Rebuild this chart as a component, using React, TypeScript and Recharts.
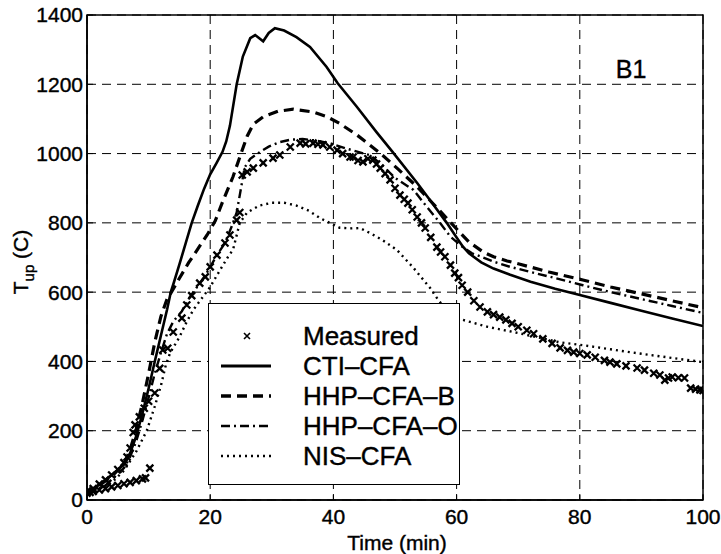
import React from "react";
import {
  ComposedChart,
  Line,
  Scatter,
  XAxis,
  YAxis,
  CartesianGrid,
  ReferenceArea,
} from "recharts";

const FONT = "'Liberation Sans', Arial, Helvetica, sans-serif";

// [time (min), temperature (C)]
const ctiCfa: [number, number][] = [
  [0, 20], [2, 45], [4, 72], [6, 102], [7, 135], [8, 185], [9, 250], [10, 322],
  [11, 400], [12, 475], [13, 550], [13.6, 600], [14, 622], [15, 680], [16, 740],
  [17, 800], [18, 850], [19, 898], [20, 940], [21, 972], [22, 1005], [22.6, 1035],
  [23.2, 1080], [24.3, 1200], [25.3, 1280], [26.5, 1333], [27.3, 1342], [28.6, 1324],
  [29.5, 1348], [30.5, 1362], [32, 1355], [34, 1336], [36.2, 1308], [38.9, 1250],
  [40.7, 1203], [43.8, 1135], [47, 1062], [49.6, 1005], [53.6, 915], [56, 858],
  [58.4, 800], [60, 758], [61, 732], [62, 712], [64, 686], [66, 668], [68.7, 650],
  [72, 630], [76, 610], [80, 592], [85, 569], [90, 546], [95, 524], [100, 502],
];

const hhpCfaB: [number, number][] = [
  [0, 20], [2, 42], [4, 68], [6, 104], [7, 145], [8, 205], [9, 280], [10, 365],
  [11, 455], [12, 530], [13, 580], [13.7, 600], [15, 640], [16.5, 685], [18, 725],
  [19.5, 765], [20.8, 805], [22, 860], [23.7, 933], [25, 1000], [26, 1050],
  [27, 1085], [28.6, 1106], [31, 1122], [33.5, 1128], [36.7, 1120], [38.9, 1107],
  [41, 1087], [43.8, 1054], [47.6, 1001], [50.5, 955], [53.6, 904], [57, 840],
  [60.6, 771], [62, 745], [64.3, 716], [66, 702], [68.2, 690], [70, 682], [75, 658],
  [80.5, 635], [85, 615], [90, 595], [95, 575], [100, 555],
];

const hhpCfaO: [number, number][] = [
  [0, 20], [3, 42], [6, 92], [7, 125], [8, 170], [9, 230], [10, 295], [11, 365],
  [12, 425], [13, 480], [14, 515], [15.4, 545], [16.7, 586], [18.3, 626], [19.2, 648],
  [20, 673], [21.1, 707], [22.4, 742], [23.5, 790], [24.3, 830], [25, 900],
  [25.6, 960], [26.5, 985], [28.1, 1005], [29.5, 1020], [31.3, 1033], [33, 1040],
  [35, 1042], [37, 1038], [39.4, 1030], [42, 1015], [44, 1005], [46, 995], [48, 965],
  [50, 930], [53, 895], [55, 850], [57.3, 800], [59, 760], [61, 730], [62.5, 712],
  [64.3, 700], [66, 688], [68.7, 673], [75, 645], [80.5, 620], [85, 600], [90, 580],
  [95, 560], [100, 540],
];

const nisCfa: [number, number][] = [
  [0, 20], [2, 32], [4, 50], [6, 85], [8, 140], [9.7, 200], [11, 270], [12, 330],
  [12.8, 390], [13.5, 425], [15, 470], [16.2, 515], [17.3, 550], [18.8, 586],
  [20, 615], [21.6, 664], [23, 705], [23.7, 722], [24.8, 800], [26, 830], [28, 850],
  [30, 858], [32, 858], [34, 850], [36, 835], [38, 812], [40, 795], [41, 786],
  [43, 784], [44.3, 785], [46, 770], [48, 750], [50.3, 722], [53, 670], [55.7, 612],
  [57, 578], [58, 556], [59, 540], [60, 528], [61, 520], [62.2, 514], [65, 500],
  [70, 482], [76.8, 455], [80.5, 447], [85, 435], [90, 422], [95, 410], [100, 398],
];

const measured: [number, number][] = [
  // lower thermocouple trace at the start
  [0, 25], [0.5, 22], [1, 25], [2, 29], [3, 33], [4, 38], [5, 42], [6, 47], [7, 51],
  [8, 56], [9, 61], [9.5, 64], [10.2, 92],
  // main trace
  [0, 20], [1, 33], [2, 46], [3, 58], [4, 72], [5, 88], [6, 108], [6.5, 124],
  [7, 150], [7.5, 195], [7.8, 217], [8.5, 240], [9.3, 265], [10, 285], [11, 309],
  [11.8, 380], [12.3, 433], [13.1, 438], [14, 485], [15.4, 525], [16.2, 563],
  [17, 590], [18.3, 626], [19.2, 644], [20, 673], [21.1, 707], [22.4, 742],
  [23.2, 765], [24.3, 808], [24.8, 830], [25.2, 938], [26, 947], [27, 958],
  [28.6, 973], [30.2, 987], [31.3, 996], [33, 1019], [34.6, 1030], [35.5, 1028],
  [36.7, 1030], [37.5, 1027], [38.3, 1025], [39.4, 1019], [40.6, 1010], [41.5, 1000],
  [42.7, 990], [43.2, 990], [44, 980], [44.8, 976], [45.6, 985], [46.4, 981],
  [47, 970], [47.6, 958], [48.4, 942], [49.2, 924], [50, 900], [50.8, 880],
  [51.5, 868], [52.1, 857], [52.8, 838], [53.6, 817], [54.3, 800], [54.9, 785],
  [55.8, 758], [56.8, 730], [57.4, 716], [58.1, 702], [59, 678], [59.7, 655],
  [60.3, 642], [60.9, 620], [61.8, 600], [62.8, 575], [63.8, 557], [65, 543],
  [66, 535], [67, 528], [68, 520], [69, 510], [70, 500], [71.4, 490], [72.5, 480],
  [74, 465], [75.5, 452], [76.8, 439], [78, 432], [79, 427], [80, 423], [81.2, 419],
  [82.5, 412], [84, 403], [84.9, 398], [86, 393], [87.5, 387], [89.3, 381],
  [90.5, 375], [92, 366], [93, 361], [93.8, 346], [94.4, 352], [95, 355], [96, 353],
  [97, 352], [98, 323], [98.8, 320], [99.5, 318], [100, 316],
];

const xTicks = [0, 20, 40, 60, 80, 100];
const yTicks = [0, 200, 400, 600, 800, 1000, 1200, 1400];

const toPoints = (arr: [number, number][]) => arr.map(([x, y]) => ({ x, y }));

// scanned figure has heavy glyphs, a thin outline thickens them a bit
const tickStyle = { fill: "#000", fontSize: 21, fontFamily: FONT, stroke: "#000", strokeWidth: 0.4 };

const XMark = (props: any) => {
  const { cx, cy } = props;
  if (cx == null || cy == null) return null;
  const s = 3.5;
  return (
    <path
      d={`M${cx - s},${cy - s}L${cx + s},${cy + s}M${cx - s},${cy + s}L${cx + s},${cy - s}`}
      stroke="#000"
      strokeWidth={2.3}
      fill="none"
    />
  );
};

const legendRows = [
  { label: "Measured", kind: "marker" },
  { label: "CTI–CFA", dash: undefined, width: 3 },
  { label: "HHP–CFA–B", dash: "10 6", width: 3.5 },
  { label: "HHP–CFA–O", dash: "9 4 2 4", width: 2.5 },
  { label: "NIS–CFA", dash: "2 4", width: 2.5 },
];

function LegendBox() {
  return (
    <div
      style={{
        position: "absolute",
        left: 208,
        top: 303,
        width: 250,
        height: 180,
        border: "1.5px solid #000",
        background: "#fff",
        fontFamily: FONT,
      }}
    >
      {legendRows.map((r: any, i) => (
        <div
          key={r.label}
          style={{
            position: "absolute",
            left: 0,
            top: 17 + i * 30,
            height: 30,
            display: "flex",
            alignItems: "center",
          }}
        >
          <svg width={94} height={30}>
            {r.kind === "marker" ? (
              <path d="M35,12L41,18M35,18L41,12" stroke="#000" strokeWidth={1.6} />
            ) : (
              <line
                x1={12}
                x2={62}
                y1={15}
                y2={15}
                stroke="#000"
                strokeWidth={r.width}
                strokeDasharray={r.dash}
              />
            )}
          </svg>
          <span
            style={{
              fontSize: 26,
              color: "#000",
              whiteSpace: "nowrap",
              WebkitTextStroke: "0.4px #000",
            }}
          >
            {r.label}
          </span>
        </div>
      ))}
    </div>
  );
}

export default function App() {
  return (
    <div style={{ position: "absolute", left: 0, top: 0, width: 721, height: 554, background: "#fff" }}>
      <ComposedChart
        width={721}
        height={554}
        margin={{ top: 15, right: 18, bottom: 4, left: 0 }}
        style={{ fontFamily: FONT }}
      >
        <CartesianGrid stroke="#000" strokeWidth={1} strokeDasharray="9 6" />
        <XAxis
          type="number"
          dataKey="x"
          domain={[0, 100]}
          ticks={xTicks}
          height={50}
          allowDataOverflow
          axisLine={{ stroke: "#000", strokeWidth: 1.5 }}
          tickLine={{ stroke: "#000" }}
          tickSize={-6}
          tickMargin={15}
          tick={tickStyle}
        />
        <YAxis
          type="number"
          domain={[0, 1400]}
          ticks={yTicks}
          width={87}
          allowDataOverflow
          axisLine={{ stroke: "#000", strokeWidth: 1.5 }}
          tickLine={{ stroke: "#000" }}
          tickSize={-6}
          tickMargin={10}
          tick={tickStyle}
        />
        <ReferenceArea
          x1={0}
          x2={100}
          y1={0}
          y2={1400}
          fill="none"
          stroke="#000"
          strokeWidth={1.5}
        />
        <Line
          data={toPoints(ctiCfa)}
          dataKey="y"
          type="linear"
          stroke="#000"
          strokeWidth={2.6}
          dot={false}
          isAnimationActive={false}
        />
        <Line
          data={toPoints(hhpCfaB)}
          dataKey="y"
          type="linear"
          stroke="#000"
          strokeWidth={3.2}
          strokeDasharray="10 6"
          dot={false}
          isAnimationActive={false}
        />
        <Line
          data={toPoints(hhpCfaO)}
          dataKey="y"
          type="linear"
          stroke="#000"
          strokeWidth={2.4}
          strokeDasharray="9 4 2 4"
          dot={false}
          isAnimationActive={false}
        />
        <Line
          data={toPoints(nisCfa)}
          dataKey="y"
          type="linear"
          stroke="#000"
          strokeWidth={2.4}
          strokeDasharray="2 4"
          dot={false}
          isAnimationActive={false}
        />
        <Scatter
          data={toPoints(measured)}
          dataKey="y"
          shape={<XMark />}
          isAnimationActive={false}
        />
        <text
          x={631}
          y={78}
          textAnchor="middle"
          fontSize={25}
          fontFamily={FONT}
          fill="#000"
          stroke="#000"
          strokeWidth={0.4}
        >
          B1
        </text>
        <text
          x={397}
          y={550}
          textAnchor="middle"
          fontSize={21}
          fontFamily={FONT}
          fill="#000"
          stroke="#000"
          strokeWidth={0.4}
        >
          Time (min)
        </text>
        <text
          x={28}
          y={262}
          transform="rotate(-90, 28, 262)"
          textAnchor="middle"
          fontSize={21}
          fontFamily={FONT}
          fill="#000"
          stroke="#000"
          strokeWidth={0.4}
        >
          T
          <tspan dy={6} fontSize={15}>
            up
          </tspan>
          <tspan dy={-6}> (C)</tspan>
        </text>
      </ComposedChart>
      <LegendBox />
    </div>
  );
}
